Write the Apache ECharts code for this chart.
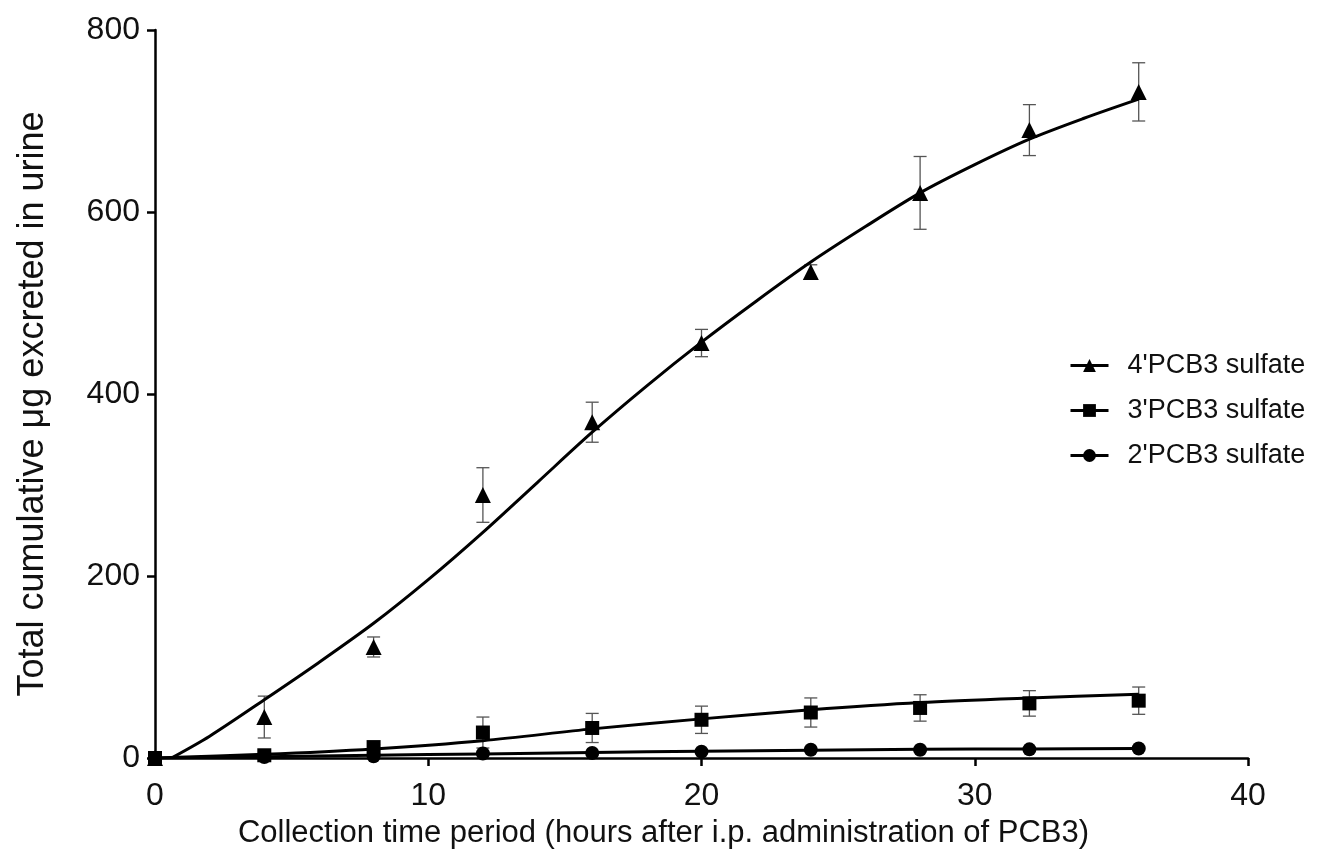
<!DOCTYPE html>
<html>
<head>
<meta charset="utf-8">
<script src="https://cdn.jsdelivr.net/npm/echarts@6/dist/echarts.min.js"></script>
<style>
  html, body { margin: 0; padding: 0; background: #fff; }
  #chart { width: 1326px; height: 850px; }
</style>
</head>
<body>
<div id="chart"></div>
<script>
// measured points (hours, µg)
const hours = [0, 4, 8, 12, 16, 20, 24, 28, 32, 36]
const pcb4 = [0, 45, 122, 289, 369, 456, 534, 621, 690, 732]
const pcb4Err = [0, 23, 11, 30, 22, 15, 8, 40, 28, 32]
const pcb3 = [0, 3, 12, 28, 33, 42, 50, 55, 60, 63]
const pcb3Err = [0, 2, 3, 17, 16, 15, 16, 14.5, 14, 15]
const pcb2 = [0, 1, 2, 5, 5.5, 7, 9, 9, 9.5, 10.5]
const pcb2Err = [0, 1, 1, 1, 1, 1, 1, 1, 1, 1]

// fitted curves
const fitHours4 = [0.6, 2, 4, 6, 8, 10, 12, 14, 16, 18, 20, 22, 24, 26, 28, 30, 32, 34, 36]
const fit4 = [0, 24, 64, 105, 148, 196, 248, 303, 358, 409, 457, 502, 545, 584, 621, 652, 680, 703, 724]
const fitHours = [0, 4, 8, 12, 16, 20, 24, 28, 32, 36]
const fit3 = [0, 4, 10, 19, 32, 43, 53, 61, 66, 70]
const fit2 = [0, 1.5, 3, 4.5, 6, 7.5, 8.5, 9.5, 10, 10.5]

const names = ["4'PCB3 sulfate", "3'PCB3 sulfate", "2'PCB3 sulfate"]

const font = "'Liberation Sans', Arial, sans-serif"
const chart = echarts.init(document.getElementById('chart'))

function pairs(xs, ys) {
    return xs.map((x, i) => [x, ys[i]])
}

function fitSeries(name, symbol, xs, ys) {
    return {
        name: name,
        type: 'line',
        data: pairs(xs, ys),
        smooth: 0.3,
        symbol: symbol,
        showSymbol: false,
        lineStyle: { color: '#000', width: 3 },
        itemStyle: { color: '#000', opacity: 1 },
        z: 3
    }
}

function pointSeries(symbol, size, ys) {
    return {
        name: symbol + ' points',
        type: 'scatter',
        data: pairs(hours, ys),
        symbol: symbol,
        symbolSize: size,
        itemStyle: { color: '#000', opacity: 1 },
        z: 4
    }
}

// error bars drawn through the axes with a custom series
function errorSeries(ys, errs) {
    return {
        type: 'custom',
        data: hours.map((h, i) => [h, ys[i] - errs[i], ys[i] + errs[i]]),
        renderItem: function (params, api) {
            const lo = api.coord([api.value(0), api.value(1)])
            const hi = api.coord([api.value(0), api.value(2)])
            const cap = 6.5
            const style = { stroke: '#555', lineWidth: 1.3 }
            return {
                type: 'group',
                children: [
                    { type: 'line', shape: { x1: lo[0], y1: lo[1], x2: hi[0], y2: hi[1] }, style: style },
                    { type: 'line', shape: { x1: lo[0] - cap, y1: lo[1], x2: lo[0] + cap, y2: lo[1] }, style: style },
                    { type: 'line', shape: { x1: hi[0] - cap, y1: hi[1], x2: hi[0] + cap, y2: hi[1] }, style: style }
                ]
            }
        },
        z: 2
    }
}

const axisCommon = {
    type: 'value',
    nameLocation: 'middle',
    axisLine: { show: true, onZero: false, lineStyle: { color: '#000', width: 2.5 } },
    axisTick: { show: true, inside: false, length: 8, lineStyle: { color: '#000', width: 2.5 } },
    splitLine: { show: false }
}

chart.setOption({
    animation: false,
    backgroundColor: '#fff',
    grid: { left: 155, right: 78, top: 30, bottom: 92, containLabel: false, outerBoundsMode: 'none' },
    legend: {
        data: names,
        orient: 'vertical',
        left: 1064,
        top: 347,
        itemWidth: 38,
        itemHeight: 16,
        itemGap: 18,
        lineStyle: { width: 3 },
        textStyle: { fontFamily: font, fontSize: 27, color: '#111', padding: [0, 0, 0, 14] }
    },
    xAxis: Object.assign({}, axisCommon, {
        min: 0, max: 40, interval: 10,
        name: 'Collection time period (hours after i.p. administration of PCB3)',
        nameGap: 60,
        nameTextStyle: { fontFamily: font, fontSize: 31, color: '#111', padding: [0, 76, 0, 0] },
        axisLabel: { fontFamily: font, fontSize: 32, color: '#111', margin: 22 }
    }),
    yAxis: Object.assign({}, axisCommon, {
        min: 0, max: 800, interval: 200,
        name: 'Total cumulative μg excreted in urine',
        nameGap: 104,
        nameTextStyle: { fontFamily: font, fontSize: 36, color: '#111', padding: [0, 20, 0, 0] },
        axisLabel: { fontFamily: font, fontSize: 32, color: '#111', margin: 15 }
    }),
    series: [
        fitSeries(names[0], 'triangle', fitHours4, fit4),
        fitSeries(names[1], 'rect', fitHours, fit3),
        fitSeries(names[2], 'circle', fitHours, fit2),
        errorSeries(pcb4, pcb4Err),
        errorSeries(pcb3, pcb3Err),
        errorSeries(pcb2, pcb2Err),
        pointSeries('triangle', 16, pcb4),
        pointSeries('rect', 14, pcb3),
        pointSeries('circle', 14, pcb2)
    ]
})
</script>
</body>
</html>
